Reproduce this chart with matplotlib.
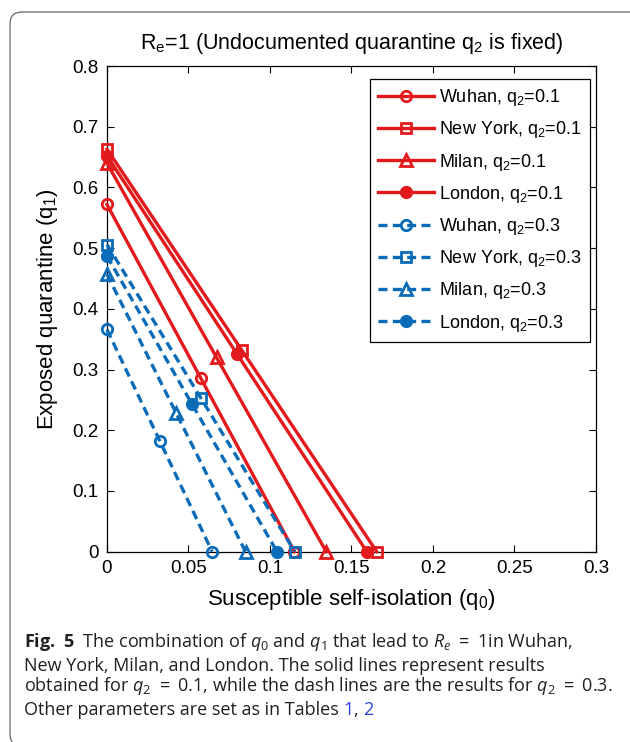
import matplotlib
matplotlib.use("Agg")
import matplotlib.pyplot as plt
from matplotlib.patches import FancyBboxPatch
from matplotlib.transforms import IdentityTransform

plt.rcParams['font.family'] = ['Liberation Sans', 'DejaVu Sans']
plt.rcParams['mathtext.fontset'] = 'custom'
plt.rcParams['mathtext.default'] = 'regular'
plt.rcParams['mathtext.it'] = 'Open Sans:italic'
plt.rcParams['mathtext.bf'] = 'Open Sans:bold'
plt.rcParams['mathtext.rm'] = 'Open Sans'

# q0 (x) and q1 (y) points for each city, R_e = 1
cities = ["Wuhan", "New York", "Milan", "London"]
q0_low = [[0, 0.0575, 0.115], [0, 0.0828, 0.1655], [0, 0.0672, 0.1345], [0, 0.0797, 0.1594]]
q1_low = [[0.572, 0.286, 0], [0.663, 0.3315, 0], [0.640, 0.320, 0], [0.652, 0.326, 0]]
q0_high = [[0, 0.0323, 0.0645], [0, 0.0576, 0.1152], [0, 0.0425, 0.085], [0, 0.0522, 0.1043]]
q1_high = [[0.366, 0.183, 0], [0.506, 0.253, 0], [0.457, 0.228, 0], [0.487, 0.243, 0]]

xticks = [0, 0.05, 0.1, 0.15, 0.2, 0.25, 0.3]
xticklabels = ['0', '0.05', '0.1', '0.15', '0.2', '0.25', '0.3']
yticks = [0, 0.1, 0.2, 0.3, 0.4, 0.5, 0.6, 0.7, 0.8]
yticklabels = ['0', '0.1', '0.2', '0.3', '0.4', '0.5', '0.6', '0.7', '0.8']

red = '#e3191c'
blue = '#0a6cb8'
markers = ['o', 's', '^', 'o']
filled = [False, False, False, True]

fig = plt.figure(figsize=(6.3, 7.42), dpi=100)
ax = fig.add_axes([0.1698, 0.2565, 0.7762, 0.6545])

for i, city in enumerate(cities):
    ax.plot(q0_low[i], q1_low[i], color=red, lw=2.4, marker=markers[i],
            ms=7.5 if markers[i] != '^' else 9, mew=2,
            mfc=red if filled[i] else 'none', mec=red,
            label=city + ", q$_2$=0.1", clip_on=False, zorder=3)
for i, city in enumerate(cities):
    ax.plot(q0_high[i], q1_high[i], color=blue, lw=2.4, ls=(0, (2.7, 1.6)),
            marker=markers[i], ms=7.5 if markers[i] != '^' else 9, mew=2,
            mfc=blue if filled[i] else 'none', mec=blue,
            label=city + ", q$_2$=0.3", clip_on=False, zorder=4)

ax.set_xlim(0, 0.3)
ax.set_ylim(0, 0.8)
ax.set_xticks(xticks)
ax.set_xticklabels(xticklabels)
ax.set_yticks(yticks)
ax.set_yticklabels(yticklabels)
ax.tick_params(direction='in', top=True, right=True, length=5, labelsize=13.5, pad=6)
for s in ax.spines.values():
    s.set_linewidth(0.9)

ax.set_title("R$_e$=1 (Undocumented quarantine q$_2$ is fixed)", fontsize=15.5, pad=12)
ax.set_xlabel("Susceptible self-isolation (q$_0$)", fontsize=16, labelpad=7)
ax.set_ylabel("Exposed quarantine (q$_1$)", fontsize=16, labelpad=9)

leg = ax.legend(loc='upper right', bbox_to_anchor=(0.9877, 0.9732), borderaxespad=0,
                fontsize=13, handlelength=3.1, labelspacing=0.62, borderpad=0.45,
                handletextpad=0.3, fancybox=False, edgecolor='black', framealpha=1)
leg.get_frame().set_linewidth(0.9)

# caption under the plot
cap = dict(fontsize=13, family='Open Sans', color='#231f20', va='bottom', ha='left')
fig.text(24 / 630, 1 - 653 / 742,
         r"$\mathbf{Fig.\ 5}$  The combination of $\mathit{q}_0$ and $\mathit{q}_1$ that lead to "
         r"$\mathit{R}_{\mathit{e}}\ =\ 1$in Wuhan,", **cap)
fig.text(24 / 630, 1 - 675 / 742,
         "New York, Milan, and London. The solid lines represent results", **cap)
fig.text(24 / 630, 1 - 697 / 742,
         r"obtained for $\mathit{q}_2\ =\ 0.1$, while the dash lines are the results for "
         r"$\mathit{q}_2\ =\ 0.3$.", **cap)
t1 = fig.text(24 / 630, 1 - 719 / 742, "Other parameters are set as in Tables ", **cap)
t2 = ax.annotate("1", xy=(1, 0), xycoords=t1, fontsize=13, family='Open Sans',
                 color='#2b3fd6', va='bottom', ha='left', annotation_clip=False)
t3 = ax.annotate(", ", xy=(1, 0), xycoords=t2, fontsize=13, family='Open Sans',
                 color='#231f20', va='bottom', ha='left', annotation_clip=False)
ax.annotate("2", xy=(1, 0), xycoords=t3, fontsize=13, family='Open Sans',
            color='#2b3fd6', va='bottom', ha='left', annotation_clip=False)

frame = FancyBboxPatch((10, -4), 660, 734, boxstyle="round,pad=0,rounding_size=12",
                       transform=IdentityTransform(), fill=False,
                       edgecolor='#555555', linewidth=0.8)
fig.add_artist(frame)

fig.savefig("out.png", dpi=100)
